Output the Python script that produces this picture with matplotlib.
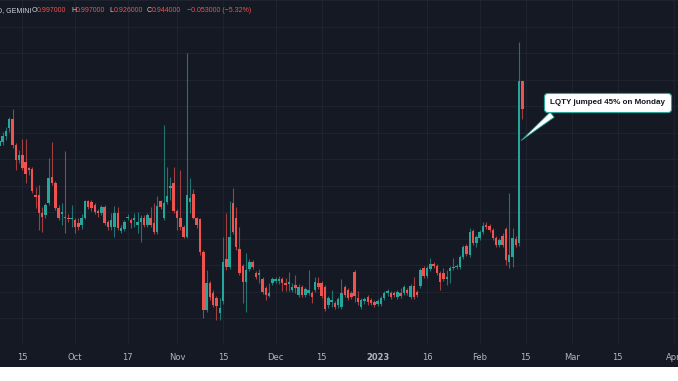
import matplotlib
matplotlib.use("Agg")
import matplotlib.pyplot as plt
import matplotlib.dates as mdates
import numpy as np
import pandas as pd

# daily LQTY/USD candles, 2022-09-08 .. 2023-02-14
dates = pd.date_range("2022-09-08", "2023-02-14", freq="D")

opens = [
    # Sep
    0.874, 0.882, 0.893, 0.908, 0.925, 0.876, 0.848, 0.857, 0.844, 0.833, 0.831, 0.782,
    0.782, 0.748, 0.744, 0.767, 0.816, 0.805, 0.758, 0.746, 0.742, 0.740, 0.737,
    # Oct
    0.735, 0.729, 0.726, 0.740, 0.771, 0.769, 0.763, 0.752, 0.748, 0.759, 0.731, 0.722,
    0.722, 0.748, 0.714, 0.718, 0.740, 0.735, 0.735, 0.726, 0.731, 0.740, 0.726, 0.740,
    0.729, 0.712, 0.771, 0.739, 0.769, 0.795, 0.805,
    # Nov
    0.752, 0.739, 0.722, 0.703, 0.769, 0.784, 0.739, 0.737, 0.675, 0.566, 0.617, 0.598,
    0.588, 0.560, 0.583, 0.662, 0.646, 0.767, 0.740, 0.680, 0.648, 0.618, 0.643, 0.656,
    0.635, 0.632, 0.624, 0.607, 0.592, 0.617,
    # Dec
    0.620, 0.620, 0.624, 0.617, 0.615, 0.603, 0.613, 0.594, 0.609, 0.594, 0.598, 0.598,
    0.603, 0.617, 0.617, 0.609, 0.575, 0.581, 0.579, 0.575, 0.571, 0.609, 0.603, 0.598,
    0.637, 0.588, 0.571, 0.583, 0.590, 0.585, 0.581,
    # Jan
    0.577, 0.577, 0.588, 0.598, 0.598, 0.598, 0.590, 0.598, 0.598, 0.603, 0.590, 0.611,
    0.600, 0.611, 0.645, 0.630, 0.643, 0.652, 0.648, 0.635, 0.635, 0.624, 0.639, 0.645,
    0.646, 0.646, 0.665, 0.686, 0.669, 0.714, 0.692,
    # Feb
    0.701, 0.712, 0.726, 0.724, 0.716, 0.701, 0.688, 0.705, 0.718, 0.656, 0.665, 0.699,
    0.692, 0.997,
]
highs = [
    0.893, 0.902, 0.910, 0.929, 0.944, 0.880, 0.867, 0.889, 0.889, 0.836, 0.835, 0.797,
    0.801, 0.759, 0.767, 0.852, 0.882, 0.808, 0.763, 0.767, 0.865, 0.746, 0.763,
    0.739, 0.740, 0.746, 0.774, 0.774, 0.773, 0.767, 0.756, 0.763, 0.763, 0.735, 0.748,
    0.761, 0.759, 0.726, 0.735, 0.746, 0.740, 0.748, 0.750, 0.744, 0.744, 0.748, 0.759,
    0.767, 0.780, 0.774, 0.915, 0.835, 0.816, 0.835,
    0.756, 0.829, 0.726, 1.051, 0.814, 0.793, 0.742, 0.740, 0.679, 0.641, 0.620, 0.603,
    0.592, 0.588, 0.703, 0.748, 0.771, 0.795, 0.759, 0.722, 0.652, 0.673, 0.662, 0.660,
    0.639, 0.643, 0.628, 0.611, 0.617, 0.628,
    0.628, 0.630, 0.628, 0.626, 0.637, 0.617, 0.632, 0.615, 0.613, 0.609, 0.641, 0.601,
    0.628, 0.628, 0.620, 0.613, 0.592, 0.603, 0.583, 0.590, 0.624, 0.613, 0.607, 0.601,
    0.641, 0.601, 0.588, 0.590, 0.594, 0.588, 0.585,
    0.586, 0.592, 0.601, 0.605, 0.601, 0.601, 0.603, 0.607, 0.613, 0.607, 0.615, 0.628,
    0.603, 0.645, 0.648, 0.648, 0.664, 0.656, 0.652, 0.639, 0.645, 0.641, 0.648, 0.664,
    0.652, 0.669, 0.688, 0.690, 0.720, 0.718, 0.707,
    0.716, 0.731, 0.731, 0.727, 0.720, 0.705, 0.701, 0.711, 0.722, 0.786, 0.720, 0.705,
    1.070, 0.997,
]
lows = [
    0.867, 0.876, 0.887, 0.902, 0.872, 0.829, 0.842, 0.829, 0.806, 0.820, 0.786, 0.758,
    0.716, 0.712, 0.739, 0.763, 0.801, 0.754, 0.735, 0.726, 0.711, 0.731, 0.722,
    0.711, 0.716, 0.718, 0.737, 0.756, 0.752, 0.746, 0.742, 0.744, 0.726, 0.716, 0.716,
    0.703, 0.716, 0.711, 0.714, 0.735, 0.720, 0.722, 0.711, 0.694, 0.722, 0.722, 0.722,
    0.709, 0.709, 0.756, 0.735, 0.765, 0.773, 0.748,
    0.716, 0.716, 0.701, 0.701, 0.748, 0.737, 0.720, 0.669, 0.551, 0.562, 0.585, 0.571,
    0.547, 0.547, 0.577, 0.641, 0.643, 0.709, 0.679, 0.632, 0.579, 0.562, 0.639, 0.643,
    0.624, 0.617, 0.596, 0.585, 0.590, 0.613,
    0.617, 0.615, 0.601, 0.601, 0.601, 0.600, 0.598, 0.590, 0.590, 0.590, 0.594, 0.579,
    0.600, 0.605, 0.588, 0.564, 0.570, 0.571, 0.568, 0.570, 0.568, 0.590, 0.585, 0.586,
    0.581, 0.575, 0.568, 0.577, 0.575, 0.575, 0.571,
    0.573, 0.573, 0.585, 0.592, 0.586, 0.590, 0.586, 0.588, 0.594, 0.594, 0.586, 0.586,
    0.590, 0.607, 0.626, 0.626, 0.639, 0.645, 0.632, 0.603, 0.620, 0.613, 0.617, 0.641,
    0.643, 0.643, 0.662, 0.667, 0.665, 0.688, 0.684,
    0.697, 0.709, 0.718, 0.712, 0.697, 0.684, 0.684, 0.684, 0.650, 0.645, 0.646, 0.684,
    0.686, 0.926,
]
closes = [
    0.885, 0.893, 0.904, 0.925, 0.876, 0.848, 0.857, 0.833, 0.823, 0.829, 0.791, 0.778,
    0.748, 0.742, 0.763, 0.814, 0.805, 0.758, 0.740, 0.750, 0.739, 0.737, 0.740,
    0.722, 0.722, 0.740, 0.771, 0.759, 0.758, 0.750, 0.748, 0.759, 0.729, 0.722, 0.735,
    0.748, 0.720, 0.720, 0.731, 0.742, 0.729, 0.739, 0.731, 0.740, 0.726, 0.744, 0.726,
    0.712, 0.761, 0.759, 0.767, 0.780, 0.799, 0.752,
    0.739, 0.722, 0.703, 0.782, 0.776, 0.740, 0.726, 0.675, 0.566, 0.617, 0.590, 0.575,
    0.573, 0.570, 0.656, 0.646, 0.703, 0.712, 0.684, 0.635, 0.618, 0.641, 0.656, 0.646,
    0.628, 0.635, 0.600, 0.594, 0.598, 0.624,
    0.624, 0.624, 0.617, 0.613, 0.618, 0.609, 0.607, 0.609, 0.594, 0.605, 0.603, 0.590,
    0.618, 0.609, 0.592, 0.568, 0.588, 0.585, 0.571, 0.586, 0.598, 0.594, 0.588, 0.590,
    0.592, 0.581, 0.585, 0.586, 0.581, 0.579, 0.575,
    0.583, 0.588, 0.598, 0.601, 0.590, 0.594, 0.600, 0.592, 0.609, 0.598, 0.611, 0.590,
    0.594, 0.641, 0.630, 0.645, 0.652, 0.648, 0.635, 0.618, 0.624, 0.628, 0.645, 0.646,
    0.648, 0.665, 0.684, 0.671, 0.712, 0.692, 0.703,
    0.712, 0.724, 0.722, 0.716, 0.701, 0.688, 0.697, 0.688, 0.660, 0.669, 0.701, 0.688,
    0.997, 0.944,
]

tick_dates = ["2022-09-15", "2022-10-01", "2022-10-17", "2022-11-01", "2022-11-15",
              "2022-12-01", "2022-12-15", "2023-01-01", "2023-01-16", "2023-02-01",
              "2023-02-15", "2023-03-01", "2023-03-15", "2023-04-01"]
tick_labels = ["15", "Oct", "17", "Nov", "15", "Dec", "15", "2023", "16", "Feb",
               "15", "Mar", "15", "Apr"]

header_keys = ["O", "H", "L", "C"]
header_vals = ["0.997000", "0.997000", "0.926000", "0.944000"]
change_text = "\u22120.053000 (\u22125.32%)"
note = "LQTY jumped 45% on Monday"

BG = "#151924"
GRID = "#1f2330"
UP = "#26a69a"
DOWN = "#ef5350"
TXT = "#b2b5be"

o = np.array(opens)
h = np.array(highs)
l = np.array(lows)
c = np.array(closes)
x = mdates.date2num(dates)
up = c >= o

W, H = 678, 381
fig = plt.figure(figsize=(W / 100, H / 100), dpi=100, facecolor=BG)
ax = fig.add_axes([0, 36 / H, 1, 345 / H])
ax.set_facecolor(BG)

# wicks then bodies
ax.vlines(x, l, h, colors=np.where(up, UP, DOWN), lw=0.8, alpha=0.65, zorder=2)
body = np.maximum(np.abs(c - o), 0.0018)
ax.bar(x, body, bottom=np.minimum(o, c), width=0.75,
       color=np.where(up, UP, DOWN), lw=0, zorder=3)

x0 = mdates.date2num(pd.Timestamp("2022-10-01"))
ax.set_xlim(x0 - 22.8, x0 + 183.3)
ax.set_ylim(0.4999, 1.1485)

ax.set_yticks(np.arange(0.5, 1.16, 0.05))
ax.set_yticklabels([])
ax.set_xticks(mdates.date2num(pd.to_datetime(tick_dates)))
ax.set_xticklabels(tick_labels)
for t in ax.get_xticklabels():
    if t.get_text() == "2023":
        t.set_fontweight("bold")
        t.set_color("#d1d4dc")
ax.tick_params(axis="both", length=0, labelsize=6, colors=TXT, pad=6)
ax.tick_params(axis="y", left=False, labelleft=False)
ax.grid(True, color=GRID, lw=0.8, zorder=0)
for s in ax.spines.values():
    s.set_visible(False)

# header line
fy = 1 - 11 / H
hdr = dict(fontsize=5, va="center", family="Liberation Sans")
fig.text(-3 / W, fy, "D, GEMINI", color="#d1d4dc", **hdr)
for k, v, px in zip(header_keys, header_vals, [32, 71, 109, 147]):
    fig.text(px / W, fy, k, color="#d1d4dc", **hdr)
    fig.text((px + 5) / W, fy, v, color=DOWN, **hdr)
fig.text(187 / W, fy, change_text, color=DOWN, **hdr)

# callout
ax.annotate(note, xy=(mdates.date2num(pd.Timestamp("2023-02-13")), 0.882),
            xytext=(608, H - 103), textcoords="figure pixels",
            ha="center", va="center", fontsize=5.8, fontweight="bold",
            family="Liberation Sans", color="#131722",
            bbox=dict(boxstyle="round,pad=0.75,rounding_size=0.45", fc="white",
                      ec=UP, lw=0.8),
            arrowprops=dict(arrowstyle="wedge,tail_width=0.8,shrink_factor=0.5",
                            fc="white", ec=UP, lw=0.6, relpos=(0.1, 0.0)),
            zorder=5)

# white strip below the time axis
fig.patches.append(plt.Rectangle((0, 0), 1, 14 / H, transform=fig.transFigure,
                                 fc="white", ec="none", zorder=10))

fig.savefig("out.png", dpi=100, facecolor=fig.get_facecolor())
